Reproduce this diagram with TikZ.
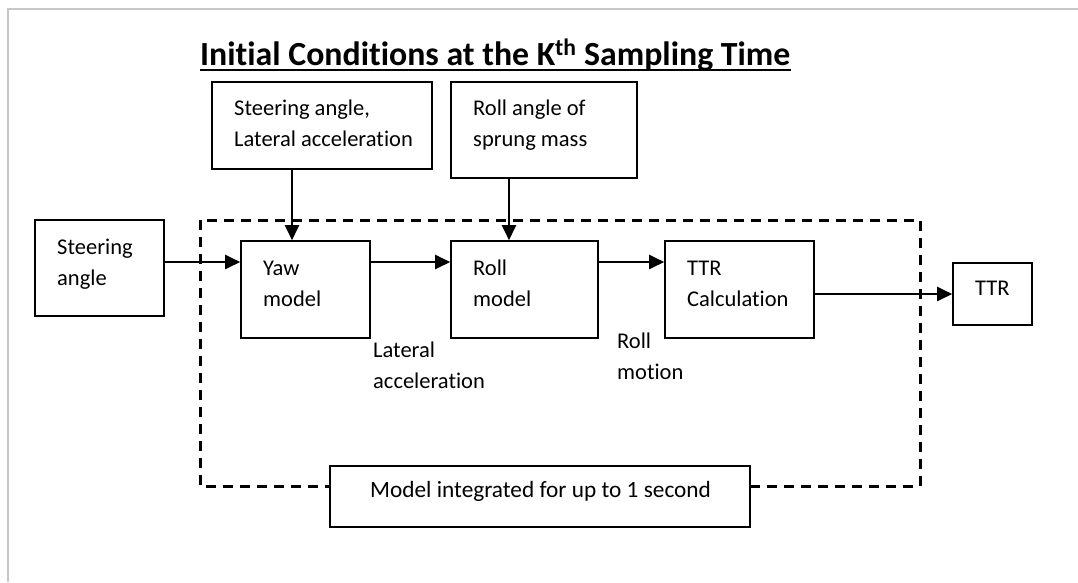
\documentclass[tikz,border=0pt]{standalone}
\usepackage{fontspec}
\setmainfont{Carlito}[Ligatures=NoCommon]
\usetikzlibrary{arrows.meta}
\tikzset{
  blk/.style={draw=black, line width=1.6pt, fill=white, inner sep=0pt},
  txt/.style={anchor=base west, inner sep=0pt, font=\fontsize{22.5}{31}\selectfont, align=left},
  flow/.style={line width=2.2pt, -{Triangle[length=15pt,width=14pt]}},
  frame/.style={draw=black!22, line width=2pt},
  loop/.style={line width=3pt, dash pattern=on 10pt off 7pt}
}
\begin{document}
\begin{tikzpicture}[x=1pt,y=-1pt]
\useasboundingbox (0,0) rectangle (1078,582);
% page frame
\draw[frame] (8,582) -- (8,9) -- (1078,9);

% title
\node[anchor=base west, inner sep=0pt, font=\fontsize{33.8}{38}\selectfont\bfseries]
  (title) at (200,65) {Initial Conditions at the K\textsuperscript{th} Sampling Time};
\draw[line width=2pt] ([yshift=-5pt]title.base west) -- ([yshift=-5pt]title.base east);

% integration loop boundary
\draw[loop] (200,220) rectangle (920,486);

% boxes
\node[blk, minimum width=220pt, minimum height=87pt] (ic1) at (322,125.5) {};
\node[blk, minimum width=186pt, minimum height=96pt] (ic2) at (544,130) {};
\node[blk, minimum width=129pt, minimum height=96pt] (steer) at (99.5,268) {};
\node[blk, minimum width=129pt, minimum height=97pt] (yaw) at (305.5,289.5) {};
\node[blk, minimum width=147pt, minimum height=97pt] (roll) at (524.5,289.5) {};
\node[blk, minimum width=149pt, minimum height=97pt] (ttrc) at (739.5,289.5) {};
\node[blk, minimum width=79pt, minimum height=62pt] (ttr) at (992.5,294) {};
\node[blk, minimum width=420pt, minimum height=61pt] (integ) at (540,496.5) {};

% box texts (y is the baseline of the last line)
\node[txt] (ic1t) at (234,146) {Steering angle,\\Lateral acceleration};
\node[txt] (ic2t) at (473,146) {Roll angle of\\sprung mass};
\node[txt] (steert) at (57,285) {Steering\\angle};
\node[txt] (yawt) at (263,306) {Yaw\\model};
\node[txt] (rollt) at (473,306) {Roll\\model};
\node[txt] (ttrct) at (687,306) {TTR\\Calculation};
\node[txt] (ttrt) at (975,295) {TTR};
\node[txt, font=\fontsize{23.3}{31}\selectfont] (integt) at (370,497) {Model integrated for up to 1 second};

% signal labels
\node[txt] (latacc) at (373,388) {Lateral\\acceleration};
\node[txt] (rollmot) at (617,379) {Roll\\motion};

% connectors
\draw[flow] (steer.east |- 0,262) -- (yaw.west |- 0,262);
\draw[flow] (yaw.east |- 0,262) -- (roll.west |- 0,262);
\draw[flow] (roll.east |- 0,262) -- (ttrc.west |- 0,262);
\draw[flow] (ttrc.east |- ttr.west) -- (ttr.west);
\draw[flow] (292,0 |- ic1.south) -- (292,0 |- yaw.north);
\draw[flow] (509,0 |- ic2.south) -- (509,0 |- roll.north);
\end{tikzpicture}
\end{document}
